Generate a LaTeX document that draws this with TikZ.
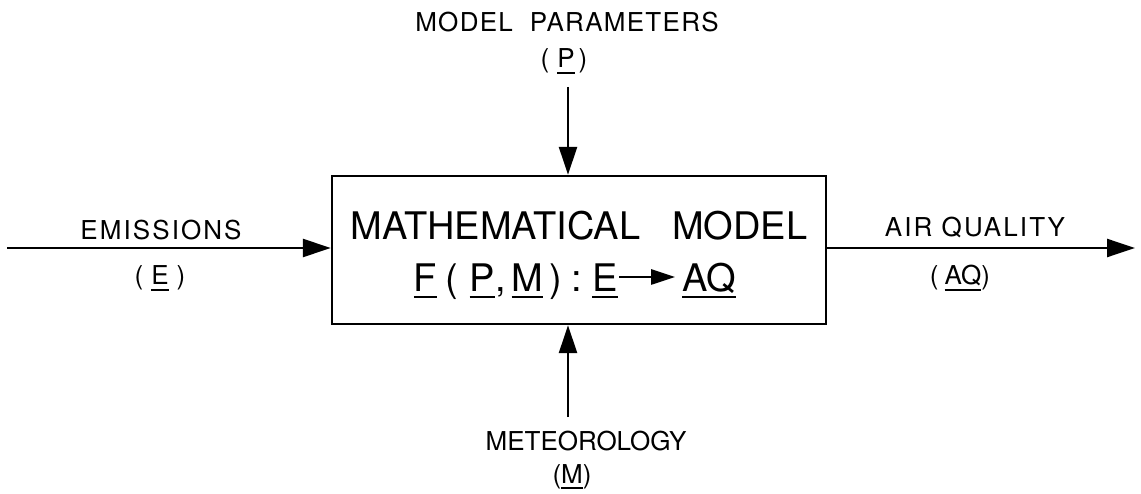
\documentclass[tikz,border=0pt]{standalone}
\usepackage{fontspec}
\setmainfont{TeX Gyre Heros}
\usetikzlibrary{arrows.meta}
\newcommand\uln[1]{{\setbox0\hbox{#1}\rlap{\rule[-6pt]{\wd0}{2.2pt}}\box0}}
\newsavebox\arrbox
\sbox\arrbox{\tikz\draw[line width=2.6pt,-{Triangle[length=24pt,width=15pt]}] (0,0)--(56pt,0);}
\newcommand\inarrow{\raisebox{7.5pt}{\usebox\arrbox}}
\tikzset{
  flow/.style={line width=2.4pt,-{Triangle[length=28pt,width=18pt]}},
  lab/.style={font=\fontsize{26}{30}\selectfont,inner sep=0pt,anchor=base},
  big/.style={font=\fontsize{38}{42}\selectfont,inner sep=0pt,anchor=base},
  modelbox/.style={draw,line width=2.4pt,inner sep=0pt,minimum width=494pt,minimum height=148pt}
}
\begin{document}
\begin{tikzpicture}[x=1pt,y=-1pt]
\useasboundingbox (0,0) rectangle (1141,494);
\node[modelbox] (model) at (579,250) {};
\node[big] (l1) at (579,240) {MATHEMATICAL\hspace{32pt}MODEL};
\node[big] (l2) at (575,292) {\uln{F}\hspace{8pt}(\hspace{12pt}\uln{P},\hspace{6pt}\uln{M}\hspace{6pt})\hspace{10pt}:\hspace{10pt}\uln{E}\inarrow\hspace{6pt}\uln{AQ}};
\node[lab] (em) at (161,240) {\addfontfeature{LetterSpace=8}EMISSIONS};
\node[lab] (emE) at (160,285) {(\hspace{8pt}\uln{E}\hspace{8pt})};
\node[lab] (aq) at (975,237) {\addfontfeature{LetterSpace=8}AIR QUALITY};
\node[lab] (aqA) at (960,285) {(\hspace{6pt}\uln{AQ})};
\node[lab] (mp) at (567,32) {\addfontfeature{LetterSpace=5}MODEL\ \ PARAMETERS};
\node[lab] (mpP) at (564,68) {(\hspace{8pt}\uln{P}\hspace{4pt})};
\node[lab] (me) at (586,450) {METEOROLOGY};
\node[lab] (meM) at (572,483) {(\uln{M})};
\coordinate (ein) at (7,248);
\coordinate (aqout) at (1135,248);
\coordinate (pin) at (568,87);
\coordinate (min) at (568,417);
\draw[flow] (ein) -- (ein -| model.west);
\draw[flow] (model.east |- aqout) -- (aqout);
\draw[flow] (pin) -- (pin |- model.north);
\draw[flow] (min) -- (min |- model.south);
\end{tikzpicture}
\end{document}
